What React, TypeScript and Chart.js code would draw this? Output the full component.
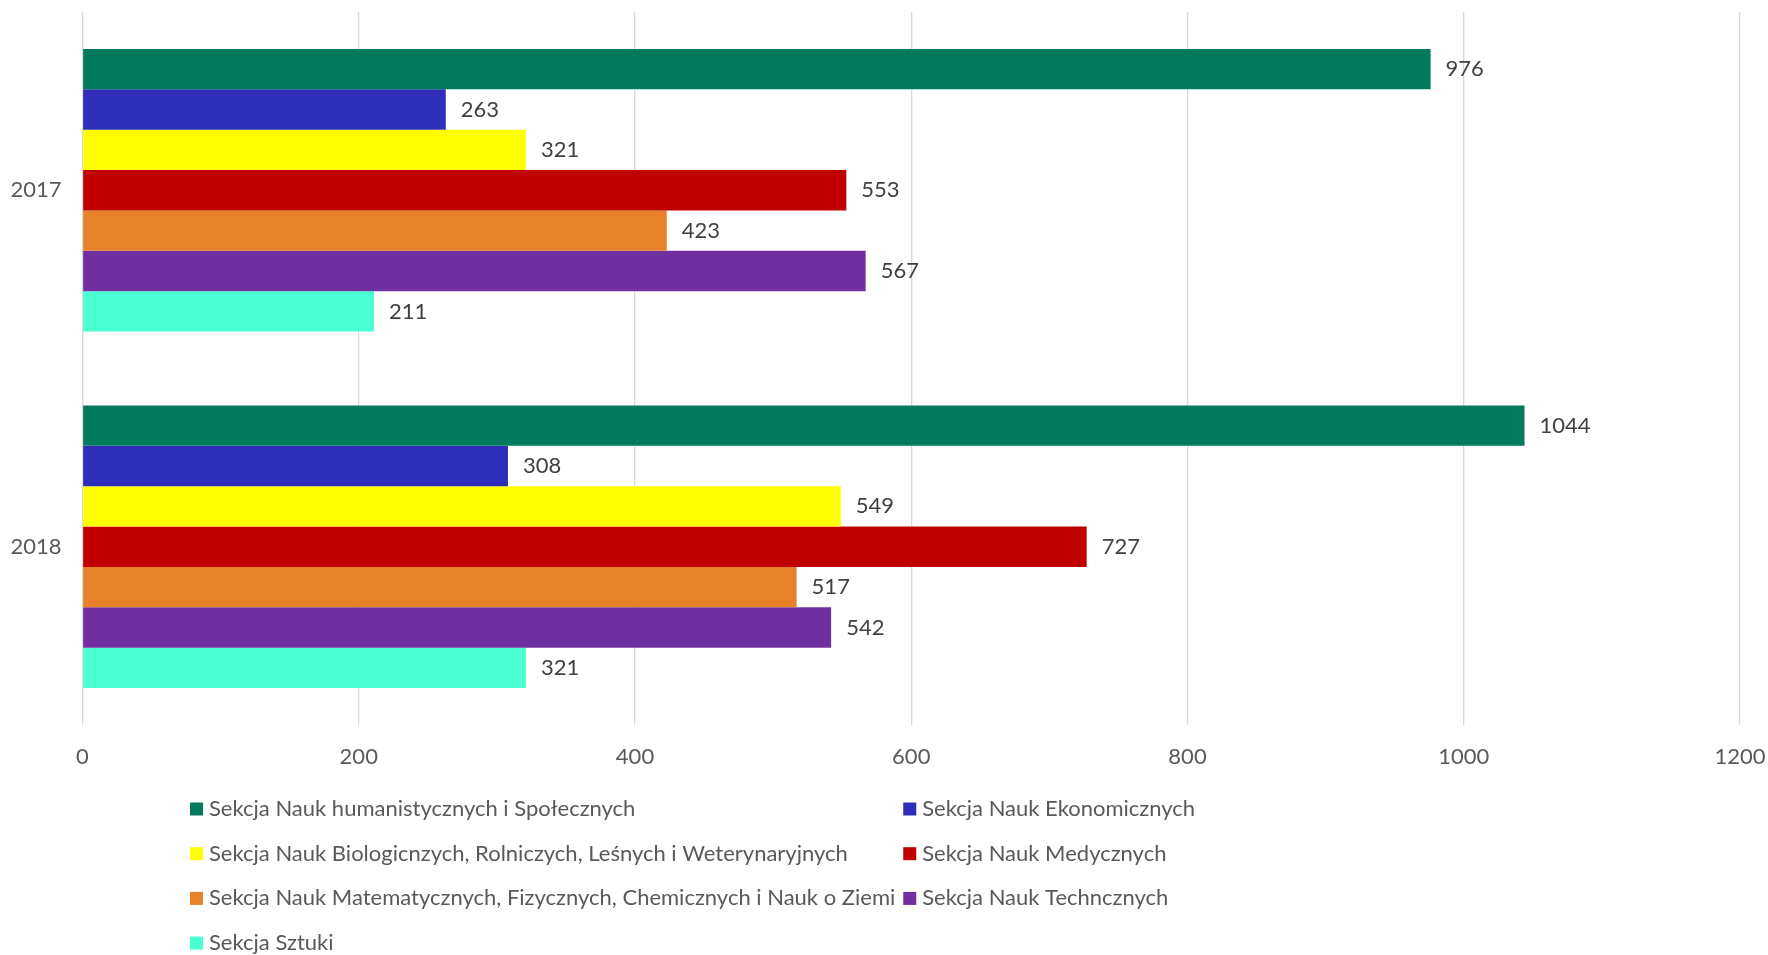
import React, { useEffect, useRef } from "react";
import { Chart, registerables } from "chart.js";

Chart.register(...registerables);

const categories = ["2017", "2018"];
const seriesNames = [
  "Sekcja Nauk humanistycznych i Społecznych",
  "Sekcja Nauk Ekonomicznych",
  "Sekcja Nauk Biologicnzych, Rolniczych, Leśnych i Weterynaryjnych",
  "Sekcja Nauk Medycznych",
  "Sekcja Nauk Matematycznych, Fizycznych, Chemicznych i Nauk o Ziemi",
  "Sekcja Nauk Techncznych",
  "Sekcja Sztuki",
];
const humanSocial = [976, 1044];
const economic = [263, 308];
const bioAgri = [321, 549];
const medical = [553, 727];
const mathPhys = [423, 517];
const technical = [567, 542];
const arts = [211, 321];
const seriesValues = [humanSocial, economic, bioAgri, medical, mathPhys, technical, arts];
const seriesColors = ["#017A5E", "#2E2EB8", "#FFFF00", "#C00000", "#E8822A", "#7030A0", "#4AFFD2"];
const xMin = 0;
const xMax = 1200;
const xStep = 200;

const FONT = "Lato, 'Open Sans', sans-serif";
const TEXT_SIZE = 22;

const W = 1768;
const H = 955;

const dataLabelPlugin = {
  id: "dataLabels",
  afterDatasetsDraw(chart: any) {
    const ctx = chart.ctx;
    ctx.save();
    ctx.font = `${TEXT_SIZE}px ${FONT}`;
    ctx.fillStyle = "#404040";
    ctx.textAlign = "left";
    ctx.textBaseline = "middle";
    chart.data.datasets.forEach((ds: any, i: number) => {
      const meta = chart.getDatasetMeta(i);
      meta.data.forEach((bar: any, j: number) => {
        ctx.fillText(String(ds.data[j]), bar.x + 15, bar.y);
      });
    });
    ctx.restore();
  },
};

const legendPlugin = {
  id: "gridLegend",
  afterDraw(chart: any) {
    const ctx = chart.ctx;
    ctx.save();
    ctx.font = `${TEXT_SIZE}px ${FONT}`;
    const box = 13;
    const gap = 6;
    const colGap = 8;
    let maxW = 0;
    seriesNames.forEach((n) => {
      maxW = Math.max(maxW, box + gap + ctx.measureText(n).width);
    });
    const colW = maxW + colGap;
    const area = chart.chartArea;
    const center = (area.left + area.right) / 2 - 8;
    const left = center - colW;
    const row0 = 809;
    const rowGap = 44.7;
    ctx.textAlign = "left";
    ctx.textBaseline = "middle";
    seriesNames.forEach((n, i) => {
      const col = i % 2;
      const row = Math.floor(i / 2);
      const x = left + col * colW;
      const y = row0 + row * rowGap;
      ctx.fillStyle = seriesColors[i];
      ctx.fillRect(x, y - box / 2, box, box);
      ctx.fillStyle = "#595959";
      ctx.fillText(n, x + box + gap, y);
    });
    ctx.restore();
  },
};

export default function App() {
  const ref = useRef<HTMLCanvasElement | null>(null);
  useEffect(() => {
    if (!ref.current) return;
    const chart = new Chart(ref.current, {
      type: "bar",
      data: {
        labels: categories,
        datasets: seriesNames.map((name, i) => ({
          label: name,
          data: seriesValues[i],
          backgroundColor: seriesColors[i],
          borderWidth: 0,
          barPercentage: 1.0,
          categoryPercentage: 0.793,
        })),
      },
      options: {
        indexAxis: "y",
        animation: false,
        responsive: true,
        maintainAspectRatio: false,
        layout: { padding: { top: 12, right: 28, bottom: 0, left: 0 } },
        plugins: {
          legend: { display: false },
          tooltip: { enabled: false },
          title: { display: false },
        },
        scales: {
          x: {
            min: xMin,
            max: xMax,
            ticks: {
              stepSize: xStep,
              color: "#595959",
              font: { family: FONT, size: TEXT_SIZE },
              padding: 19,
              maxRotation: 0,
              callback: (v: any) => String(v),
            },
            grid: { color: "#D9D9D9", lineWidth: 1.3, drawTicks: false },
            border: { display: false },
            afterFit: (s: any) => {
              s.height = 230;
              s.paddingLeft = 0;
              s.paddingRight = 0;
            },
          },
          y: {
            ticks: {
              color: "#595959",
              font: { family: FONT, size: TEXT_SIZE },
              padding: 21,
            },
            grid: { display: false, drawTicks: false },
            border: { display: false },
            afterFit: (s: any) => {
              s.width = 82.5;
              s.paddingTop = 0;
              s.paddingBottom = 0;
            },
          },
        },
      },
      plugins: [dataLabelPlugin, legendPlugin],
    });
    return () => chart.destroy();
  }, []);
  return (
    <div style={{ position: "fixed", left: 0, top: 0, width: W, height: H, background: "#fff" }}>
      <canvas ref={ref} />
    </div>
  );
}
